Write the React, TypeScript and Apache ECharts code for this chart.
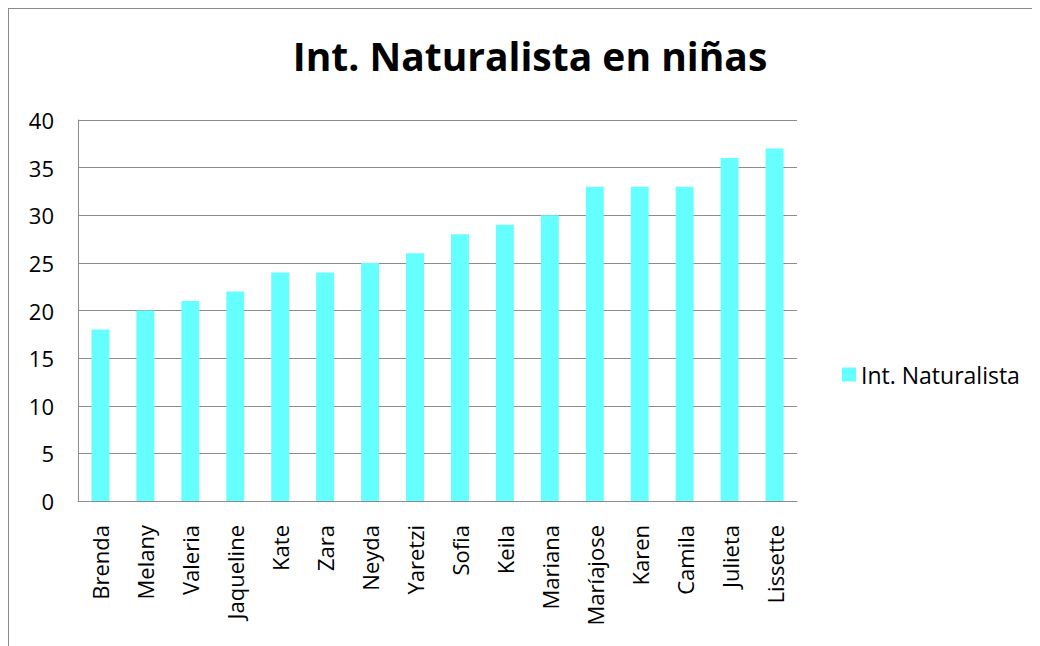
import React, { useEffect, useRef } from "react";
import * as echarts from "echarts";

const categories = ["Brenda", "Melany", "Valeria", "Jaqueline", "Kate", "Zara", "Neyda", "Yaretzi", "Sofia", "Keila", "Mariana", "Maríajose", "Karen", "Camila", "Julieta", "Lissette"];
const values = [18, 20, 21, 22, 24, 24, 25, 26, 28, 29, 30, 33, 33, 33, 36, 37];
const seriesName = "Int. Naturalista";
const titleText = "Int. Naturalista en niñas";

export default function App() {
  const ref = useRef<HTMLDivElement>(null);
  useEffect(() => {
    if (!ref.current) return;
    const chart = echarts.init(ref.current, undefined, { renderer: "svg" });
    const font = "'Open Sans', sans-serif";
    chart.setOption({
      animation: false,
      title: {
        text: titleText,
        left: 516,
        textAlign: "center",
        top: 22,
        textStyle: { fontFamily: font, fontWeight: "bold", fontSize: 39, color: "#000" },
      },
      legend: {
        data: [seriesName],
        left: 828,
        top: 349,
        itemWidth: 14,
        itemHeight: 14,
        itemGap: 6,
        icon: "rect",
        textStyle: { fontFamily: font, fontSize: 23, color: "#000" },
      },
      grid: { left: 69, top: 111, right: 243, bottom: 145, containLabel: false },
      xAxis: {
        type: "category",
        data: categories,
        axisLine: { show: true, lineStyle: { color: "#8c8c8c", width: 1 } },
        axisTick: { show: false },
        axisLabel: { rotate: 90, interval: 0, margin: 24, fontFamily: font, fontSize: 22, color: "#000" },
      },
      yAxis: {
        type: "value",
        min: 0,
        max: 40,
        interval: 5,
        axisLine: { show: true, lineStyle: { color: "#8c8c8c", width: 1 } },
        axisTick: { show: false },
        splitLine: { show: true, lineStyle: { color: "#8c8c8c", width: 1 } },
        axisLabel: { margin: 24, fontFamily: font, fontSize: 22, color: "#000" },
      },
      series: [
        {
          name: seriesName,
          type: "bar",
          data: values,
          barWidth: "40%",
          itemStyle: { color: "#66ffff" },
        },
      ],
    });
    return () => chart.dispose();
  }, []);
  return (
    <div style={{ width: 1032, height: 638, borderTop: "1px solid #8c8c8c", borderLeft: "1px solid #8c8c8c", boxSizing: "border-box", overflow: "hidden" }}>
      <div ref={ref} style={{ width: 1031, height: 637 }} />
    </div>
  );
}
